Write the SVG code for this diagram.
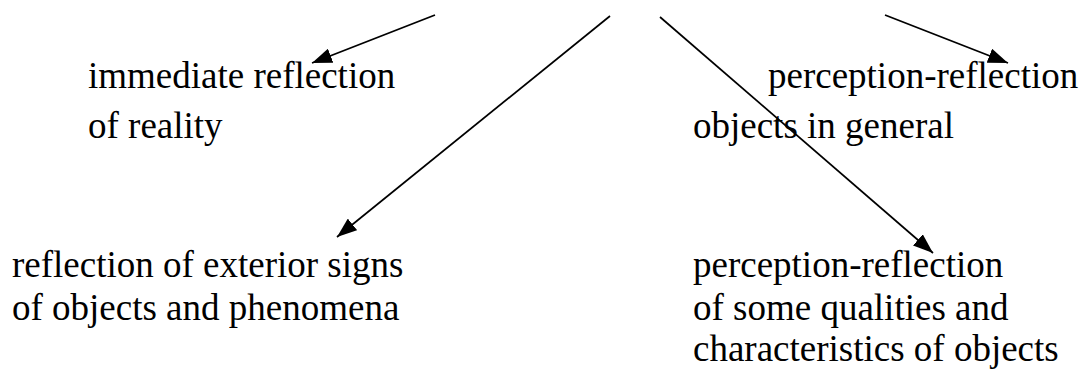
<svg xmlns="http://www.w3.org/2000/svg" width="1085" height="369" viewBox="0 0 1085 369">
  <style>
    text { font-family: 'Liberation Serif', 'Times New Roman', Times, 'DejaVu Serif', serif; font-size: 37px; fill: #000; }
    .edge { stroke: #000; stroke-width: 1.7; fill: none; marker-end: url(#head); }
  </style>
  <defs>
    <marker id="head" markerUnits="userSpaceOnUse" markerWidth="21" markerHeight="15" refX="20" refY="7.5" orient="auto">
      <path d="M0,0 L20,7.5 L0,15 Z" fill="#000"/>
    </marker>
  </defs>
  <rect width="1085" height="369" fill="#fff"/>

  <g id="connectors">
    <line class="edge" x1="435" y1="15" x2="312" y2="63"/>
    <line class="edge" x1="885" y1="15" x2="1008" y2="63"/>
    <line class="edge" x1="610" y1="16" x2="337" y2="237"/>
    <line class="edge" x1="660" y1="17" x2="933" y2="253"/>
  </g>

  <g id="immediate">
    <text x="88" y="88">immediate reflection</text>
    <text x="88" y="138">of reality</text>
  </g>

  <g id="perception-general">
    <text x="768" y="88">perception-reflection</text>
    <text x="693" y="138">objects  in general</text>
  </g>

  <g id="exterior-signs">
    <text x="12" y="277">reflection of exterior signs</text>
    <text x="12" y="320">of objects and phenomena</text>
  </g>

  <g id="perception-qualities">
    <text x="693" y="277">perception-reflection</text>
    <text x="693" y="320">of some qualities and</text>
    <text x="693" y="361">characteristics of objects</text>
  </g>
</svg>
